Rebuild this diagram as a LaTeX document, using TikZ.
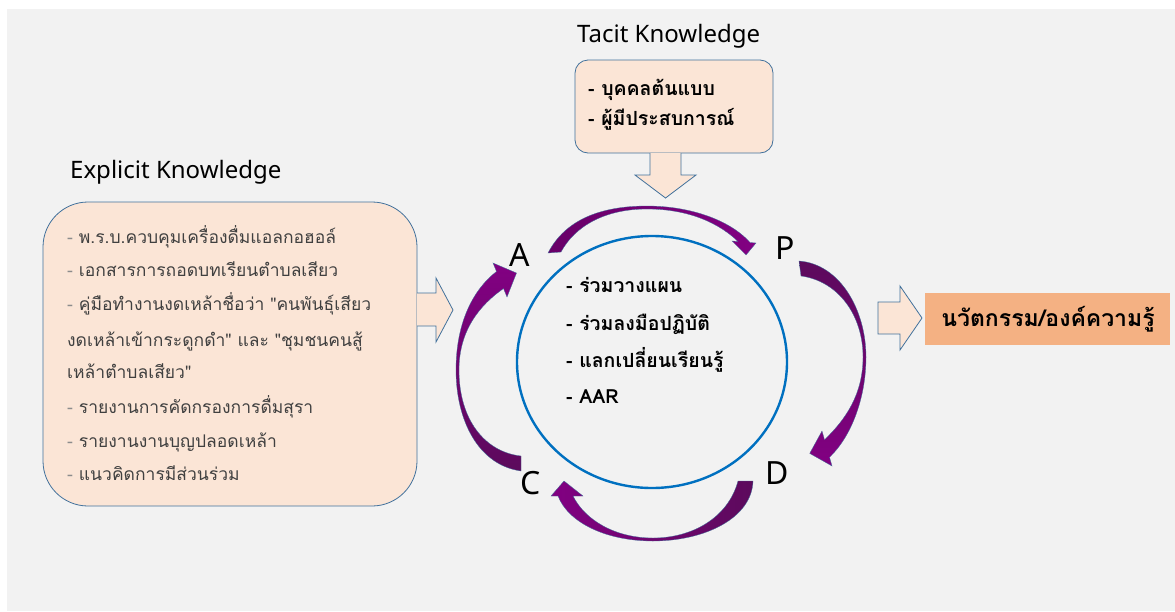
\documentclass[tikz,border=0pt]{standalone}
\usepackage{fontspec}
\setmainfont{Noto Sans}
\newfontfamily\thai[Script=Thai]{Loma}
\usetikzlibrary{shapes.geometric}
\definecolor{peach}{HTML}{FBE5D6}
\definecolor{boxline}{HTML}{41719C}
\definecolor{ringblue}{HTML}{0070C0}
\definecolor{bgray}{HTML}{F2F2F2}
\definecolor{innov}{HTML}{F4B183}
\definecolor{plumdark}{HTML}{5C0A5C}
\definecolor{plum}{HTML}{820082}
\definecolor{txtgray}{HTML}{404040}
\definecolor{dashgray}{HTML}{8C8C8C}
\newcommand{\exdash}{\textcolor{dashgray}{-}\ }

\begin{document}
\begin{tikzpicture}[x=1pt,y=-1pt,
    kbox/.style={draw=boxline,fill=peach,line width=0.8pt},
    blockarrow/.style={draw=boxline,fill=peach,line width=0.8pt},
    kbtitle/.style={font=\fontsize{24}{28}\selectfont,anchor=base west,inner sep=0pt},
    pdca/.style={font=\fontsize{32}{36}\selectfont,inner sep=0pt},
    cyclearrow/.style={draw=boxline,line width=0.3pt},
    exline/.style={font=\thai\fontsize{17.5}{20}\selectfont,text=txtgray,anchor=base west,inner sep=0pt},
    inline/.style={font=\thai\bfseries\fontsize{19.5}{22}\selectfont,anchor=base west,inner sep=0pt}]
    \useasboundingbox (0,0) rectangle (1175,611);
    \fill[bgray] (7,9) rectangle (1175,611);

    \node[kbtitle] (tacittitle) at (577,42) {Tacit Knowledge};
    \node[kbtitle] (explicittitle) at (70,178) {Explicit Knowledge};

    \node[kbox,rounded corners=13pt,minimum width=198pt,minimum height=93pt] (tacit) at (674,106.5) {};
    \node[inline] (tc1) at (588,95) {- บุคคลต้นแบบ};
    \node[inline] (tc2) at (588,125) {- ผู้มีประสบการณ์};
    \draw[blockarrow] (650,153) -- (650,175) -- (635,175) -- (665.5,198) -- (696,175) -- (681,175) -- (681,153);

    \node[kbox,rounded corners=45pt,minimum width=374pt,minimum height=304pt] (explicit) at (230,354) {};
    \foreach \y/\t [count=\i] in {243/{\exdash พ.ร.บ.ควบคุมเครื่องดื่มแอลกอฮอล์},
        276/{\exdash เอกสารการถอดบทเรียนตำบลเสียว},
        310/{\exdash คู่มือทำงานงดเหล้าชื่อว่า "คนพันธุ์เสียว},
        346/{งดเหล้าเข้ากระดูกดำ" และ "ชุมชนคนสู้},
        378/{เหล้าตำบลเสียว"},
        413/{\exdash รายงานการคัดกรองการดื่มสุรา},
        447/{\exdash รายงานงานบุญปลอดเหล้า},
        480/{\exdash แนวคิดการมีส่วนร่วม}}
        \node[exline] (ex\i) at (67,\y) {\t};
    \draw[blockarrow] (417,293) -- (436,293) -- (436,278) -- (453,310) -- (436,342) -- (436,326) -- (417,326);

    \node[draw=ringblue,line width=2.4pt,ellipse,minimum width=270pt,minimum height=252pt] (ring) at (652,362) {};
    \node[inline] (in1) at (566,292.5) {- ร่วมวางแผน};
    \node[inline] (in2) at (566,330.5) {- ร่วมลงมือปฏิบัติ};
    \node[inline] (in3) at (566,367.5) {- แลกเปลี่ยนเรียนรู้};
    \node[inline] (in4) at (566,403.5) {- AAR};

    \node[pdca] (A) at (520,255) {A};
    \node[pdca] (P) at (785,248) {P};
    \node[pdca] (D) at (777,473) {D};
    \node[pdca] (C) at (531,483) {C};

    \shadedraw[cyclearrow,left color=plum!80!black,right color=plum]
        (548,253) .. controls (565,220) and (600,206) .. (647,206) .. controls (690,206) and (730,220) .. (750,242.5)
        -- (756,243) -- (746,255) -- (732,241) -- (738,241.5)
        .. controls (720,224) and (690,209) .. (647,209) .. controls (605,209) and (575,226) .. (561,252) -- cycle;
    \shadedraw[cyclearrow,top color=plumdark,bottom color=plum]
        (799,261) .. controls (840,264) and (866,310) .. (866,357) .. controls (866,400) and (850,438) .. (829.5,457.25)
        -- (832,466) -- (809.7,453.4) -- (822,431) -- (824.5,439.75)
        .. controls (845,420) and (863,395) .. (863,357) .. controls (863,315) and (838,281) .. (801,276) -- cycle;
    \shadedraw[cyclearrow,left color=plum,right color=plumdark]
        (738,481) -- (753,481) .. controls (752,518) and (705,541) .. (653,541) .. controls (605,541) and (568,522) .. (558,496)
        -- (551,496) -- (564,481) -- (583,496) -- (573,496)
        .. controls (585,520) and (615,538) .. (653,538) .. controls (692,538) and (728,518) .. (738,481) -- cycle;
    \shadedraw[cyclearrow,top color=plum,bottom color=plumdark]
        (521,456) -- (521,471) .. controls (478,465) and (456,420) .. (456,370) .. controls (456,320) and (475,288) .. (496.5,271.5)
        -- (493,263) -- (516.5,273) -- (507,297) -- (503.5,288.5)
        .. controls (480,305) and (459,330) .. (459,370) .. controls (459,420) and (485,452) .. (521,456) -- cycle;

    \draw[blockarrow] (878,302) -- (900,302) -- (900,286) -- (922,318) -- (900,350) -- (900,334) -- (878,334) -- cycle;
    \node[fill=innov,minimum width=245pt,minimum height=52pt] (innovation) at (1047.5,318.5) {};
    \node[font=\thai\bfseries\fontsize{23}{26}\selectfont,anchor=base,inner sep=0pt] (innovtext) at (1048,326) {นวัตกรรม/องค์ความรู้};
\end{tikzpicture}
\end{document}
